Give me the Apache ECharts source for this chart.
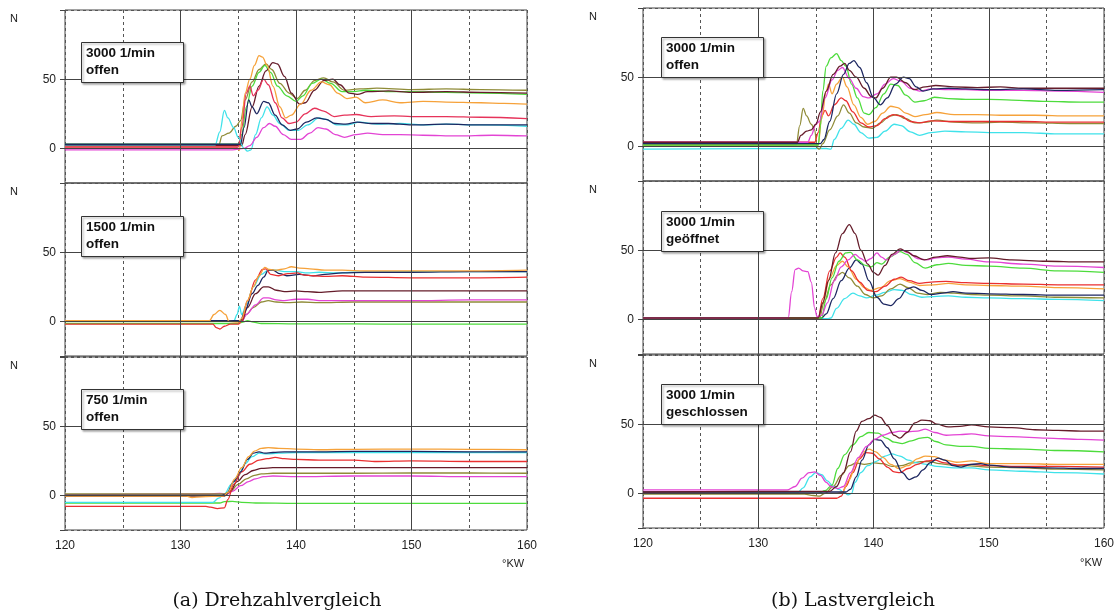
<!DOCTYPE html>
<html>
<head>
<meta charset="utf-8">
<script src="https://cdn.jsdelivr.net/npm/echarts@6/dist/echarts.min.js"></script>
<style>
  html, body { margin: 0; padding: 0; background: #fff; }
  #chart { width: 1119px; height: 614px; }
</style>
</head>
<body>
<div id="chart"></div>
<script>
// ---- Axis settings ----
const xTicks = [120, 130, 140, 150, 160];
const yLabels = [0, 50];

// ---- Drehzahlvergleich: 3000 1/min offen ----
const a1_cyan = [[120,2.5],[133,2.5],[133.4,12],[133.8,27.5],[134.1,22],[134.6,15],[135.0,8],[135.5,0],[135.8,-2],[136.1,-1],[136.5,10],[137.0,22],[137.5,30],[138.0,24],[138.6,18],[139.4,13],[140.2,13],[141.0,17],[142.0,22],[142.6,21],[143.5,17],[144.5,17],[145.5,19],[147,17.5],[149,18],[151,17],[153,17.5],[156,17],[160,16]];
const a1_olive = [[120,2],[133.3,2],[133.6,9],[134.2,11],[134.8,16],[135.2,20],[135.6,35],[136.2,48],[136.8,57],[137.4,61],[137.9,57],[138.6,47],[139.4,40],[140.1,36],[140.8,42],[141.6,49],[142.4,51],[143.2,48],[144.2,42],[145.5,43],[147,43.5],[150,42.5],[153,43],[156,42.5],[160,42]];
const a1_green = [[120,3],[135,3],[135.3,10],[135.7,30],[136.2,45],[136.8,55],[137.3,60],[137.8,55],[138.4,45],[139.2,38],[140,34],[140.6,38],[141.4,47],[142.2,50],[143,47],[144,41],[145,41],[146,42],[148,41],[150,41],[153,40.5],[156,40],[160,39]];
const a1_orange = [[120,1],[134.8,1],[135.1,-1.5],[135.3,20],[135.6,40],[136,50],[136.4,60],[136.8,67],[137.1,66],[137.5,60],[138,45],[138.6,30],[139.1,22],[139.6,24],[140.4,32],[141.3,42],[142.2,48],[142.9,46],[143.6,40],[144.4,36],[145.2,37],[146,33],[147.5,35],[149,33],[151,34],[153,33.5],[156,33],[158,32.5],[160,32]];
const a1_maroon = [[120,2],[135.3,2],[135.6,10],[136.2,30],[136.8,45],[137.4,56],[138,62],[138.4,61],[139,52],[139.6,40],[140.3,32],[140.8,33],[141.6,42],[142.4,49],[143.2,50],[143.8,46],[144.6,40],[145.3,39],[146.2,41],[148,41.5],[150,40.5],[153,41],[156,40.5],[160,40]];
const a1_crimson = [[120,1],[135,1],[135.3,15],[135.7,40],[136,45],[136.3,38],[136.7,42],[137.2,50],[137.6,46],[138.2,33],[138.8,22],[139.4,18],[140,19],[140.8,25],[141.6,29],[142.4,27],[143.3,23],[144.2,24],[145.2,24.5],[146.5,23],[148.5,23.5],[150,23],[153,23],[156,22.5],[160,21.5]];
const a1_navy = [[120,3],[135.2,3],[135.5,15],[135.9,35],[136.2,30],[136.6,25],[137.2,34],[137.6,33],[138.2,24],[138.8,17],[139.5,13],[140.1,14],[140.9,19],[141.8,22],[142.6,21],[143.4,18],[144.3,17.5],[145.3,19],[146.5,18],[148,18],[150,17],[153,17.5],[156,17],[160,17]];
const a1_magenta = [[120,-1],[134.5,-1],[135.5,0],[136,2],[136.6,8],[137.2,15],[137.7,18],[138.2,16],[138.9,10],[139.6,6.5],[140.4,6.5],[141.2,11],[141.9,15],[142.6,14],[143.4,10],[144.2,8],[145.2,10],[146.2,11],[147.5,10],[149,10],[151,9.5],[154,9],[157,9.5],[160,9]];

// ---- Drehzahlvergleich: 1500 1/min offen ----
const a2_orange = [[120,0.5],[132.5,0.5],[132.9,5],[133.4,8],[133.9,5],[134.2,0],[135,-0.5],[135.3,2],[135.8,15],[136.3,25],[136.8,33],[137.3,39],[137.7,37.5],[138.3,37],[139,38],[139.6,39.5],[140.3,38.5],[141.2,38],[142.5,37],[144,37],[146,36.5],[150,36.5],[155,36.5],[160,37]];
const a2_red = [[120,-2],[132.8,-2],[133.1,-4.5],[133.4,-5.5],[133.8,-3.5],[134.3,-2],[135,-2],[135.3,0],[135.8,15],[136.5,30],[137.1,37.5],[137.4,38],[137.8,34],[138.5,33],[139.3,34.5],[140.1,35],[140.7,33.5],[141.5,33],[142.5,32.5],[144,33],[146,32],[150,31.5],[155,31.5],[160,32]];
const a2_navy = [[120,0.5],[135.2,0.5],[135.6,8],[136.2,20],[136.7,26],[137.2,32],[137.6,37],[138,37],[138.6,34.5],[139.2,33],[140.3,34],[141.5,33],[142.5,34],[144,35],[146,35.5],[148,35.5],[150,35.5],[155,36],[160,36]];
const a2_cyan = [[120,0],[134.6,0],[134.9,5],[135.1,11],[135.3,5],[135.7,12],[136.3,25],[137,34],[137.6,37],[138.2,37],[139,36],[140,36],[141,35],[142,35.5],[143.5,35],[145,35.5],[150,36],[155,36],[160,36]];
const a2_maroon = [[120,0],[135.3,0],[135.8,10],[136.5,20],[137.2,25],[137.6,25],[138.3,22.5],[139,21.5],[140,22],[141,21.5],[142,21],[144,22],[147,22],[150,22],[155,22],[160,22]];
const a2_magenta = [[120,0],[135.3,0],[135.7,5],[136.5,12],[137.2,17],[137.6,17],[138.3,15.5],[139,15],[140,16],[141,16],[142,15],[145,15],[150,15],[155,15.5],[160,15.5]];
const a2_olive = [[120,0],[135.3,0],[135.7,5],[136.3,10],[137,14],[137.6,15],[138.3,14],[139.2,13.5],[140.5,14],[142,13.5],[145,14],[150,14],[155,14],[160,14]];
const a2_green = [[120,-1.5],[135,-1.5],[135.4,-0.5],[135.8,0.5],[136.3,-0.5],[137,-1.5],[140,-1.8],[145,-1.8],[150,-2],[155,-2],[160,-2]];

// ---- Drehzahlvergleich: 750 1/min offen ----
const a3_orange = [[120,-0.5],[130.5,-0.5],[131,-1.5],[131.8,-1],[133.7,-0.5],[134.1,2],[134.7,12],[135.3,20],[135.9,28],[136.4,32],[137,34],[137.6,34.5],[138.5,34],[140,33.5],[142,33],[145,33.3],[150,33.5],[155,33.3],[160,33]];
const a3_navy = [[120,0],[133.6,0],[134,1],[134.6,10],[135.2,17],[135.8,26],[136.3,30.5],[136.8,31.5],[137.3,30.5],[138,31],[139,31.5],[140,31.5],[142,31.5],[145,31.8],[150,31.8],[155,31.5],[160,31.5]];
const a3_cyan = [[120,-5],[132.8,-5],[133.3,-2],[133.8,1],[134.4,8],[135,14],[135.6,23],[136.2,28],[136.8,30.5],[137.5,30],[138.5,30.5],[140,31],[145,31],[150,31],[155,31],[160,31]];
const a3_red = [[120,-8],[132.2,-8],[132.6,-8.5],[133.2,-9.5],[133.8,-9],[134.1,-3],[134.6,8],[135.3,17],[136,22.5],[136.8,25.5],[137.5,26.5],[138.2,27.5],[139,26.5],[140,26],[142,25.5],[145,25.5],[147,24.5],[150,25],[155,24.5],[160,24.5]];
const a3_maroon = [[120,-0.5],[133.8,-0.5],[134.3,3],[134.9,10],[135.6,15],[136.3,18],[137,19.5],[138,20],[140,20],[145,20],[150,20],[155,20],[160,20]];
const a3_olive = [[120,1],[133.8,1],[134.3,3],[135,8],[135.7,12],[136.4,14.5],[137,15.5],[138,16],[140,16],[145,16],[150,16.2],[155,16.2],[160,16]];
const a3_magenta = [[120,0.5],[132.5,1],[133.4,1.5],[134,1],[134.5,3],[135.2,7],[135.9,10],[136.5,12],[137.2,13.5],[138,14],[140,13.5],[145,14],[150,14],[155,13.5],[160,13.5]];
const a3_green = [[120,-5.5],[133.4,-5.5],[133.8,-4.5],[134.5,-4.3],[135.3,-5],[136.5,-5.5],[140,-5.8],[145,-5.8],[150,-5.8],[155,-5.8],[160,-5.8]];

// ---- Lastvergleich: 3000 1/min offen ----
const b1_olive = [[120,1],[133.3,1],[133.6,15],[133.9,27.5],[134.2,22],[134.6,16],[134.9,12],[135.1,-1],[135.3,-2],[135.6,2],[136.2,12],[136.9,22],[137.4,30],[137.9,24],[138.5,17],[139.2,14],[139.9,13],[140.6,17],[141.4,22],[142,23],[142.8,20],[143.6,17],[144.6,17.5],[145.5,19],[147,17.5],[149,17],[151,17.5],[154,17],[157,16.5],[160,16.5]];
const b1_maroon = [[120,3],[133.4,3],[133.7,8],[134.2,11],[134.6,12],[135,16],[135.4,25],[135.9,40],[136.5,52],[137.1,58],[137.5,60],[137.9,55],[138.5,50],[139.2,42],[139.8,36],[140.2,35],[140.8,42],[141.5,50],[142,50],[142.8,46],[143.5,41],[144.5,43],[145.4,44],[147,43],[149,42.5],[151,43],[153,42],[156,42],[160,42]];
const b1_magenta = [[120,3],[134.3,3],[134.6,8],[135,16],[135.3,18],[135.8,35],[136.4,48],[136.9,55],[137.3,57],[137.9,49],[138.5,42],[139.1,36],[139.6,35],[140.3,38],[141,45],[141.7,49],[142.4,47],[143.2,42],[144,40],[145,41.5],[146.5,41],[148,41],[150,40.5],[153,40.5],[156,40],[160,39]];
const b1_green = [[120,1],[135.2,1],[135.4,15],[135.6,40],[135.9,58],[136.3,64],[136.8,67],[137.2,62],[137.6,58],[138.1,45],[138.6,35],[139.2,24],[139.6,23],[140.2,28],[140.9,38],[141.5,45],[142.1,44],[142.8,37],[143.6,32],[144.4,33],[145.3,35.5],[146.5,34.5],[148,34],[150,34],[152,33.5],[155,32.5],[158,32],[160,32]];
const b1_orange = [[120,1],[135.2,1],[135.5,20],[135.9,40],[136.1,45],[136.4,38],[136.8,45],[137.3,50],[137.7,43],[138.3,30],[138.9,21],[139.5,16],[140.1,18],[140.8,24],[141.5,29],[142.1,28],[142.8,24],[143.6,21.5],[144.5,23],[145.5,24.5],[147,23],[149,23],[151,22.5],[154,22.5],[157,22],[160,22]];
const b1_red = [[120,3],[134.9,3],[135.2,10],[135.5,22],[135.8,26],[136.1,22],[136.6,30],[137.2,35],[137.6,33],[138.2,25],[138.9,17],[139.6,14],[140.3,15],[141,20],[141.7,23],[142.4,22],[143.2,18],[144,17],[145,18.5],[146.5,18],[148,18],[150,18],[153,18],[156,17.5],[160,17.5]];
const b1_navy = [[120,2],[135.4,2],[135.7,5],[136.2,18],[136.8,38],[137.4,52],[137.9,60],[138.3,62],[138.8,57],[139.4,46],[140,35],[140.6,30],[141.2,35],[141.9,45],[142.6,50],[143.1,49],[143.7,43],[144.3,40],[145.2,41.5],[146.5,42],[148,41.5],[150,41],[153,41.5],[156,40.5],[160,41]];
const b1_cyan = [[120,-2],[135.9,-1.5],[136.3,-2],[136.6,5],[137.2,13],[137.8,19],[138.3,16],[138.9,10],[139.6,6],[140.3,6.5],[141,11],[141.8,16],[142.4,15],[143.2,10.5],[144,8],[145,10],[146.2,11],[148,10.5],[150,10],[153,10],[156,9],[160,9]];

// ---- Lastvergleich: 3000 1/min geöffnet ----
const b2_magenta = [[120,1],[132.6,1],[132.9,20],[133.2,36],[133.5,37],[133.9,35],[134.3,34.5],[134.6,27],[134.9,8],[135.1,2],[135.5,3],[136,12],[136.6,28],[137.2,38],[137.8,43],[138.4,47],[138.9,44],[139.3,42],[139.8,44],[140.3,48],[140.7,45],[141.1,43],[141.8,47],[142.4,50],[143.1,48],[143.8,44],[144.6,43],[145.5,44.5],[146.5,45],[148,43.5],[150,41.5],[153,40],[156,38.5],[160,37.5]];
const b2_maroon = [[120,1],[135.2,1],[135.6,12],[136.1,28],[136.7,48],[137.3,62],[137.9,68.5],[138.4,62],[138.9,50],[139.5,40],[140,34],[140.4,32],[141,39],[141.6,47],[142.3,51],[142.9,49],[143.5,46],[144.4,43],[145.4,45],[146.4,46],[147.5,45],[148.5,44],[150,44.5],[152,43],[155,42],[158,41.5],[160,41.5]];
const b2_green = [[120,1],[135.5,1],[135.9,15],[136.4,30],[137,42],[137.6,48],[138,48.5],[138.6,43],[139.3,39],[139.8,38],[140.3,41],[140.7,40],[141.4,45],[142.3,49],[142.9,47],[143.6,41],[144.5,37],[145.5,39.5],[146.5,40.5],[148,39],[150,38.5],[153,37],[156,35],[160,34]];
const b2_red = [[120,1],[135.2,1],[135.6,15],[136.2,35],[136.8,45],[137.1,48],[137.5,45],[138.1,35],[138.8,27],[139.5,21],[140.2,20],[141,24],[141.8,29],[142.4,30.5],[143.1,28],[144,26],[145,27],[146.3,27.5],[148,26.5],[150,26],[153,25.5],[156,25],[160,25]];
const b2_orange = [[120,0.5],[135.2,0],[135.6,12],[136.2,30],[136.8,39],[137.3,42],[137.8,38],[138.5,29],[139.2,23],[139.8,21],[140.6,23],[141.5,28],[142.3,29.5],[143.1,27],[144,24.5],[145.2,25],[146.5,26],[148,25],[150,24.5],[153,24],[156,23],[160,22]];
const b2_olive = [[120,0.5],[135.3,0.5],[135.7,12],[136.3,25],[136.9,32],[137.3,34],[137.9,30],[138.6,24],[139.3,18],[140,15.5],[140.7,17],[141.5,22],[142.3,25.5],[143,23],[143.8,19],[144.7,18],[145.8,19.5],[147,19],[148.5,18],[150,17.5],[153,17],[156,16],[160,15.5]];
const b2_navy = [[120,1],[135.5,1],[135.9,4],[136.5,15],[137.2,28],[137.9,37],[138.5,43],[139,40],[139.6,28],[140.3,16],[140.9,11],[141.5,10],[142.2,15],[142.9,22],[143.5,23.5],[144.2,21],[145,18],[146,19],[146.9,20],[148,19],[150,18.5],[153,18],[156,17.5],[160,17.5]];
const b2_cyan = [[120,0.5],[136,0.5],[136.3,1],[136.8,8],[137.5,15],[138.2,19],[138.8,17],[139.4,15.5],[140.2,17.5],[141,19.5],[141.8,21.5],[142.5,21],[143.3,18],[144.2,16],[145.2,16.5],[146.5,17],[148,16],[150,15.5],[153,15],[156,14.5],[160,13.5]];

// ---- Lastvergleich: 3000 1/min geschlossen ----
const b3_magenta = [[120,2.5],[132.5,2.5],[133.2,5],[133.8,11],[134.4,15],[134.9,15.5],[135.4,13],[135.9,8],[136.3,5],[136.9,3.5],[137.4,5],[138,15],[138.7,26],[139.4,34],[140.1,39],[140.8,42],[141.6,44],[142.3,45],[143,44.5],[143.8,45],[144.5,46.5],[145.3,44],[146.3,42],[147.5,42.5],[148.5,43],[150,41.5],[152,41],[155,40],[158,39],[160,38.5]];
const b3_cyan = [[120,0.5],[133.4,0.5],[133.9,4],[134.5,12],[135,15],[135.5,13.5],[136,9],[136.5,5],[137,3],[137.4,1],[137.8,-1],[138.1,0],[138.4,8],[138.9,15],[139.5,20],[140.2,23],[141,27],[141.6,28.5],[142.3,27],[143,24],[143.8,22],[144.6,21],[145.5,19.5],[147,18.5],[148.5,18.5],[150,17],[153,16],[156,15],[160,14]];
const b3_maroon = [[120,1],[136.2,1.5],[136.8,5],[137.4,15],[138,30],[138.5,45],[139,52],[139.6,54],[140.1,56.5],[140.6,55],[141.2,49],[141.8,42],[142.3,40],[142.9,44],[143.6,51],[144.2,53],[144.9,52.5],[145.5,50],[146.5,48],[147.5,48.5],[148.5,49.5],[150,48],[152,47.5],[154,46],[156,45.5],[158,45],[160,45]];
const b3_green = [[120,0],[134.5,0],[135.2,0],[135.8,2],[136.4,6],[136.9,18],[137.5,28],[138.2,35],[138.9,41],[139.6,44],[140.4,43.5],[141.1,40],[141.8,37],[142.5,36],[143.3,38],[144.1,40],[144.7,40.5],[145.4,37.5],[146.3,35],[147.5,34],[148.5,34],[150,32.5],[153,32],[156,31],[160,30]];
const b3_navy = [[120,1],[137.6,1],[138,3],[138.5,12],[139,24],[139.6,35],[140.1,39],[140.6,38.5],[141.2,33],[141.8,25],[142.5,15],[143.1,10],[143.7,12],[144.3,17],[144.9,22],[145.6,25.5],[146.2,24],[146.9,20],[147.6,19],[148.5,21],[149.3,21.5],[150,20.5],[152,19],[155,18.5],[158,18],[160,18]];
const b3_orange = [[120,0],[136.8,0],[137.3,1],[137.9,10],[138.5,22],[139.1,30],[139.6,32],[140.2,30],[140.8,26],[141.5,21],[142.2,18],[143,20],[143.8,25],[144.5,27],[145.3,26.5],[146.2,24],[147.2,22.5],[148.5,23.5],[150,21.5],[153,21.5],[156,21],[160,21]];
const b3_red = [[120,-3.5],[136.8,-3.5],[137.2,-2],[137.6,5],[138.2,15],[138.8,25],[139.3,29.5],[139.9,29],[140.5,25],[141.2,19],[141.8,15.5],[142.3,15],[143,18],[143.8,21],[144.6,23.5],[145.3,24],[146.2,22],[147.3,20.5],[148.5,21],[150,20],[153,19.5],[156,19.5],[160,19]];
const b3_olive = [[120,-0.5],[134,-0.5],[134.8,-1.5],[135.3,-2],[135.8,0],[136.5,5],[137.2,13],[137.9,20],[138.5,22],[139.2,21],[140.1,22],[140.8,21.5],[141.6,19.5],[142.4,20],[143.3,22],[144.1,23],[144.9,23],[145.7,21.5],[146.8,20.5],[148,20],[150,19],[153,18.5],[156,17.5],[160,17]];

// ---- Panel labels ----
const boxTexts = [
  ['3000 1/min', 'offen'], ['1500 1/min', 'offen'], ['750 1/min', 'offen'],
  ['3000 1/min', 'offen'], ['3000 1/min', 'geöffnet'], ['3000 1/min', 'geschlossen']
];
const captions = ['(a) Drehzahlvergleich', '(b) Lastvergleich'];

// ---- Line colours ----
const C = {
  cyan: '#3fe2ea', olive: '#8f8b37', green: '#4ddc3c', orange: '#f6a23a',
  red: '#ea2f30', crimson: '#e6335a', navy: '#1d2761', maroon: '#651c2a', magenta: '#e344d4'
};

const panelSeries = [
  [['olive',a1_olive],['green',a1_green],['maroon',a1_maroon],['orange',a1_orange],['crimson',a1_crimson],['cyan',a1_cyan],['navy',a1_navy],['magenta',a1_magenta]],
  [['green',a2_green],['olive',a2_olive],['magenta',a2_magenta],['maroon',a2_maroon],['cyan',a2_cyan],['navy',a2_navy],['red',a2_red],['orange',a2_orange]],
  [['green',a3_green],['cyan',a3_cyan],['magenta',a3_magenta],['olive',a3_olive],['maroon',a3_maroon],['red',a3_red],['navy',a3_navy],['orange',a3_orange]],
  [['cyan',b1_cyan],['olive',b1_olive],['red',b1_red],['orange',b1_orange],['green',b1_green],['magenta',b1_magenta],['maroon',b1_maroon],['navy',b1_navy]],
  [['cyan',b2_cyan],['olive',b2_olive],['navy',b2_navy],['orange',b2_orange],['red',b2_red],['green',b2_green],['magenta',b2_magenta],['maroon',b2_maroon]],
  [['olive',b3_olive],['cyan',b3_cyan],['red',b3_red],['orange',b3_orange],['green',b3_green],['navy',b3_navy],['magenta',b3_magenta],['maroon',b3_maroon]]
];

// ---- Layout ----
const colLeft = [65, 643];
const colWidth = [462, 461];
const rowTop = [[10, 183, 357], [8, 181, 355]];
const rowH = 173;
const SANS = '"Liberation Sans", Arial, sans-serif';
const GRID_SOLID = '#444';
const GRID_DASH = '#555';

const grids = [], xAxes = [], yAxes = [], series = [], graphics = [];

for (let p = 0; p < 6; p++) {
  const col = p < 3 ? 0 : 1;
  const row = p % 3;
  const top = rowTop[col][row];
  const left = colLeft[col];
  grids.push({
    left: left, top: top, width: colWidth[col], height: rowH,
    show: true, borderColor: GRID_SOLID, borderWidth: 1, backgroundColor: 'transparent'
  });
  xAxes.push({
    type: 'value', gridIndex: p, min: 120, max: 160, interval: 5,
    axisLine: { show: false }, axisTick: { show: false },
    axisLabel: {
      show: row === 2, customValues: xTicks, margin: 10,
      color: '#222', fontSize: 12, fontFamily: SANS
    },
    splitLine: { show: true, lineStyle: { color: GRID_DASH, width: 1, type: [3, 3] } }
  });
  yAxes.push({
    type: 'value', gridIndex: p, min: -25, max: 100, interval: 25,
    axisLine: { show: false },
    axisTick: { show: true, customValues: [-25, 0, 50, 100], length: 5, lineStyle: { color: GRID_SOLID } },
    axisLabel: { customValues: yLabels, margin: 9, color: '#222', fontSize: 12, fontFamily: SANS },
    splitLine: { show: true, lineStyle: { color: GRID_DASH, width: 1, type: [3, 3] } }
  });
  // solid major grid lines
  series.push({
    type: 'line', xAxisIndex: p, yAxisIndex: p, data: [], silent: true, z: 1,
    markLine: {
      silent: true, symbol: 'none', animation: false,
      label: { show: false },
      lineStyle: { color: GRID_SOLID, type: 'solid', width: 1 },
      emphasis: { disabled: true },
      data: [{ xAxis: 130 }, { xAxis: 140 }, { xAxis: 150 }, { yAxis: 0 }, { yAxis: 50 }]
    }
  });
  panelSeries[p].forEach(([c, d]) => {
    series.push({
      type: 'line', xAxisIndex: p, yAxisIndex: p, data: d, z: 3,
      showSymbol: false, smooth: 0.35, smoothMonotone: 'x', silent: true,
      lineStyle: { color: C[c], width: 1.3 }
    });
  });

  // "N" unit label
  graphics.push({
    type: 'text', left: col === 0 ? 10 : 589, top: top + 3,
    style: { text: 'N', font: '11px ' + SANS, fill: '#222' }
  });

  // condition label box (drawn above the grid lines)
  const bx = col === 0 ? 81 : 661;
  const by = top + (col === 0 ? [32, 33, 32][row] : [29, 30, 29][row]);
  graphics.push({
    type: 'rect', left: bx, top: by, z: 100,
    shape: { width: 102, height: 40 },
    style: { fill: '#fff', stroke: '#333', lineWidth: 1,
             shadowBlur: 2, shadowOffsetX: 1.5, shadowOffsetY: 1.5, shadowColor: 'rgba(0,0,0,0.35)' }
  });
  graphics.push({
    type: 'text', left: bx + 5, top: by + 3, z: 101,
    style: { text: boxTexts[p].join('\n'), font: 'bold 13.5px ' + SANS, fill: '#111', lineHeight: 17 }
  });
}

// x-axis unit and captions
graphics.push({ type: 'text', left: 502, top: 558, style: { text: '°KW', font: '11px ' + SANS, fill: '#222' } });
graphics.push({ type: 'text', left: 1080, top: 557, style: { text: '°KW', font: '11px ' + SANS, fill: '#222' } });
graphics.push({ type: 'text', x: 277, y: 601, style: { text: captions[0], font: '19px "DejaVu Serif", serif', fill: '#111', align: 'center', verticalAlign: 'middle' } });
graphics.push({ type: 'text', x: 853, y: 601, style: { text: captions[1], font: '19px "DejaVu Serif", serif', fill: '#111', align: 'center', verticalAlign: 'middle' } });

const chart = echarts.init(document.getElementById('chart'), null, { renderer: 'canvas' });
chart.setOption({
  animation: false,
  backgroundColor: '#fff',
  grid: grids,
  xAxis: xAxes,
  yAxis: yAxes,
  series: series,
  graphic: graphics
});
</script>
</body>
</html>
